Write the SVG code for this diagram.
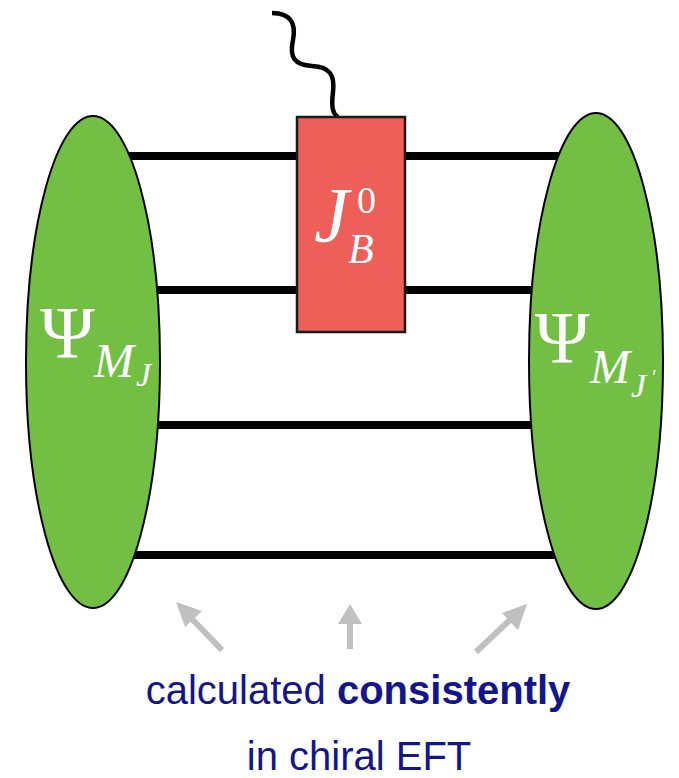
<svg xmlns="http://www.w3.org/2000/svg" width="679" height="778" viewBox="0 0 679 778">
<defs>
<style>
.ln{stroke:#000;stroke-width:8;fill:none}
.ell{fill:#72bf44;stroke:#000;stroke-width:2}
.gr{stroke:#c0c0c0;stroke-width:6;fill:none}
.ah{fill:#c0c0c0}
.math{font-family:"Liberation Serif","DejaVu Serif",serif;fill:#fff}
.it{font-style:italic}
.cap{font-family:"Liberation Sans",Arial,sans-serif;font-size:40px;fill:#13168a}
</style>
</defs>
<rect width="679" height="778" fill="#fff"/>
<g id="connectors">
<line class="ln" x1="110" y1="156" x2="580" y2="156"/>
<line class="ln" x1="110" y1="290" x2="580" y2="290"/>
<line class="ln" x1="110" y1="425" x2="580" y2="425"/>
<line class="ln" x1="110" y1="555" x2="580" y2="555"/>
<path d="M272,13 C292,13 296,25 293,40 C289,58 295,65 312,66 C330,67 335,75 333,92 C331,108 333,114 338,117" stroke="#000" stroke-width="4.5" fill="none"/>
<g id="arrows">
<line class="gr" x1="222" y1="650" x2="190" y2="617"/>
<polygon class="ah" points="176,602 202,611 185,627"/>
<line class="gr" x1="350" y1="649" x2="350" y2="622"/>
<polygon class="ah" points="350,604 362,624 338,624"/>
<line class="gr" x1="476" y1="652" x2="512" y2="618"/>
<polygon class="ah" points="527,604 518,630 502,613"/>
</g>
</g>
<g id="left-wavefunction">
<ellipse class="ell" cx="93" cy="362" rx="67" ry="246"/>
<text class="math" x="40" y="358" font-size="74">Ψ</text>
<text class="math it" x="94" y="377" font-size="48">M</text>
<text class="math it" x="136" y="386" font-size="34">J</text>
</g>
<g id="right-wavefunction">
<ellipse class="ell" cx="596" cy="361" rx="67" ry="248"/>
<text class="math" x="535" y="363" font-size="74">Ψ</text>
<text class="math it" x="590" y="383" font-size="48">M</text>
<text class="math it" x="631" y="397" font-size="34">J</text>
<text class="math" x="652" y="384" font-size="22">′</text>
</g>
<g id="current-operator">
<rect x="297" y="117" width="108" height="215" fill="#ee5f5a" stroke="#1a1a1a" stroke-width="2.5"/>
<text class="math it" x="314" y="241" font-size="78">J</text>
<text class="math" x="357" y="213" font-size="38">0</text>
<text class="math it" x="348" y="263" font-size="42">B</text>
</g>
<g id="caption">
<text class="cap" x="358" y="704" text-anchor="middle">calculated <tspan font-weight="bold">consistently</tspan></text>
<text class="cap" x="359" y="770" text-anchor="middle">in chiral EFT</text>
</g>
</svg>
